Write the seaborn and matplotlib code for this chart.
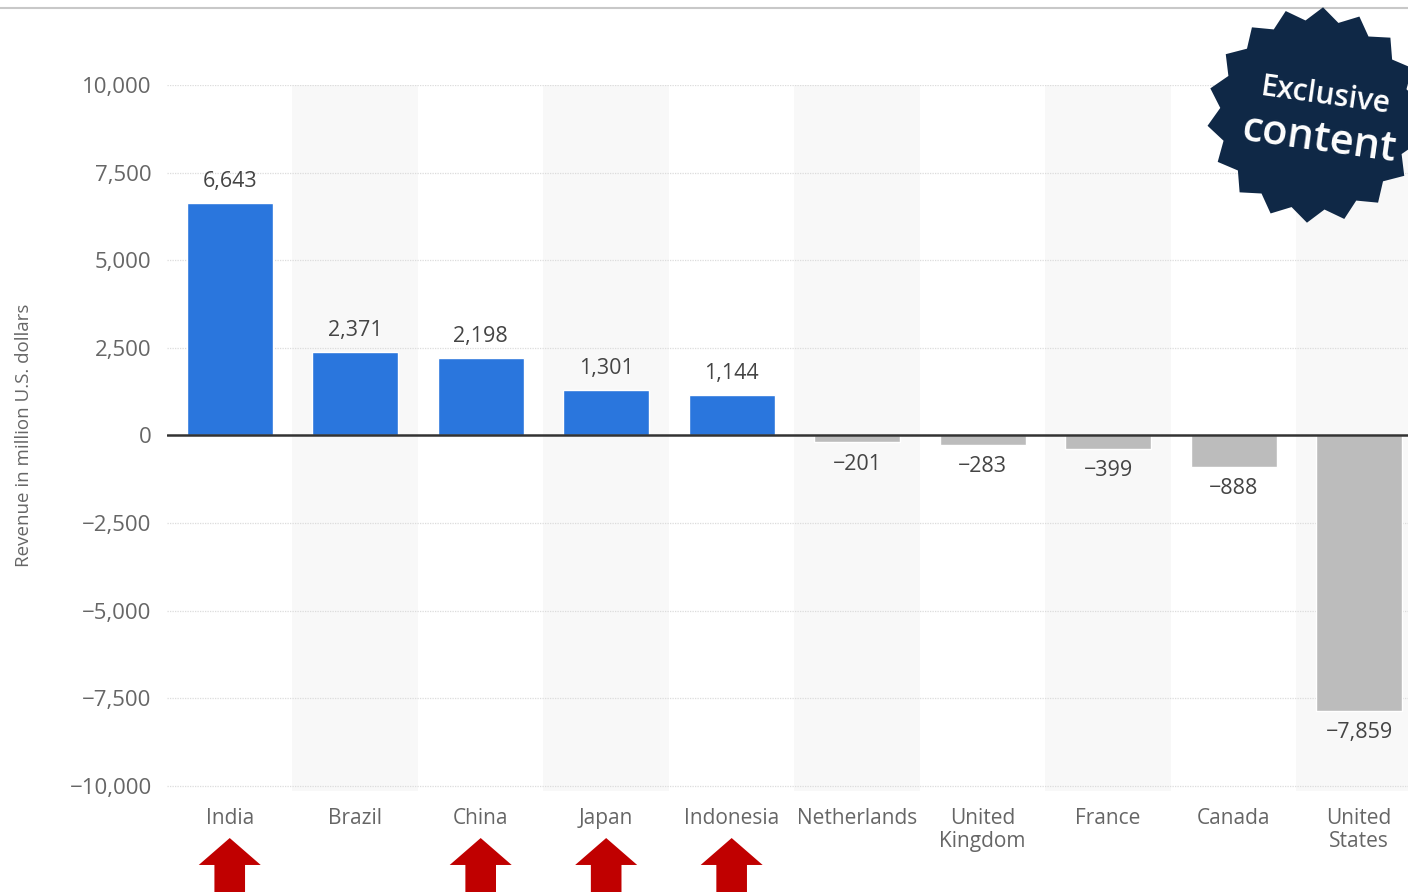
import matplotlib

matplotlib.use("Agg")
import matplotlib.pyplot as plt
import numpy as np
import pandas as pd
import seaborn as sns
from matplotlib.patches import Polygon
from matplotlib.ticker import FuncFormatter
from matplotlib.transforms import blended_transform_factory

# Datos (millones de USD)
countries = ["India", "Brazil", "China", "Japan", "Indonesia", "Netherlands",
             "United\nKingdom", "France", "Canada", "United\nStates"]
revenue = [6643, 2371, 2198, 1301, 1144, -201, -283, -399, -888, -7859]
highlighted = ["India", "China", "Japan", "Indonesia"]
y_ticks = [-10000, -7500, -5000, -2500, 0, 2500, 5000, 7500, 10000]

BLUE = "#2a76dd"
GREY = "#bcbcbc"
TXT = "#666666"

sns.set_theme(style="white")
plt.rcParams["font.family"] = ["Open Sans", "DejaVu Sans"]


def fmt(v):
    return f"{v:,.0f}".replace("-", "−")


df = pd.DataFrame({"country": countries, "revenue": revenue})
colors = [BLUE if v >= 0 else GREY for v in revenue]

fig = plt.figure(figsize=(14.08, 8.92), dpi=100)
ax = fig.add_axes([0.1186, 0.1132, 0.8814, 0.7915])

# bandas alternas de fondo
for i in range(len(countries)):
    if i % 2 == 1:
        ax.axvspan(i - 0.5, i + 0.5, color="#f8f8f8", zorder=0, lw=0)

sns.barplot(data=df, x="country", y="revenue", hue="country", palette=colors,
            legend=False, width=0.685, saturation=1, ax=ax, zorder=3)

ax.set_xlim(-0.5, 9.39)
ax.set_ylim(-10150, 10000)
ax.set_yticks(y_ticks)
ax.yaxis.set_major_formatter(FuncFormatter(lambda v, _: fmt(v)))
ax.grid(axis="y", color="#dcdcdc", linestyle=(0, (1, 1)), linewidth=0.9, zorder=1)
ax.axhline(0, color="#333333", linewidth=1.8, zorder=4)
for s in ax.spines.values():
    s.set_visible(False)

ax.tick_params(axis="y", length=0, pad=11, labelsize=16, labelcolor=TXT)
ax.tick_params(axis="x", length=0, pad=12, labelsize=15, labelcolor=TXT)
ax.set_xlabel("")
ax.set_ylabel("Revenue in million U.S. dollars", fontsize=13.5, color=TXT)
ax.yaxis.set_label_coords(-0.108, 0.504)
for lbl in ax.get_xticklabels():
    lbl.set_linespacing(1.15)

for cont in ax.containers:
    vals = [b.get_height() for b in cont]
    ax.bar_label(cont, labels=[fmt(v) for v in vals],
                 padding=8, fontsize=15.5, color="#444444")

# flechas rojas bajo los países destacados
trans = blended_transform_factory(ax.transData, fig.transFigure)
for name in highlighted:
    i = countries.index(name)
    pts = [(i, 0.0605), (i + 0.247, 0.0303), (i + 0.122, 0.0303), (i + 0.122, -0.01),
           (i - 0.122, -0.01), (i - 0.122, 0.0303), (i - 0.247, 0.0303)]
    fig.patches.append(Polygon(pts, closed=True, transform=trans,
                               facecolor="#c00000", edgecolor="none"))

# línea gris superior
fig.add_artist(plt.Line2D([0, 1], [0.991, 0.991], color="#c8c8c8", lw=1.5,
                          transform=fig.transFigure))

# sello "Exclusive content"
cx, cy, n = 1315, 892 - 115, 18
ang = np.linspace(0, 2 * np.pi, 2 * n, endpoint=False) + 0.1
rad = np.where(np.arange(2 * n) % 2 == 0, 108, 95)
star = [((cx + r * np.cos(a)) / 1408, (cy + r * np.sin(a)) / 892) for a, r in zip(ang, rad)]
fig.patches.append(Polygon(star, closed=True, transform=fig.transFigure,
                           facecolor="#0f2846", edgecolor="none", zorder=10))
fig.text(1325 / 1408, 1 - 96 / 892, "Exclusive", color="white", fontsize=21.5,
         fontweight="semibold", rotation=-8, ha="center", va="center", zorder=11)
fig.text(1319 / 1408, 1 - 140 / 892, "content", color="white", fontsize=30,
         fontweight="semibold", rotation=-8, ha="center", va="center", zorder=11)

fig.savefig("out.png", dpi=100)
